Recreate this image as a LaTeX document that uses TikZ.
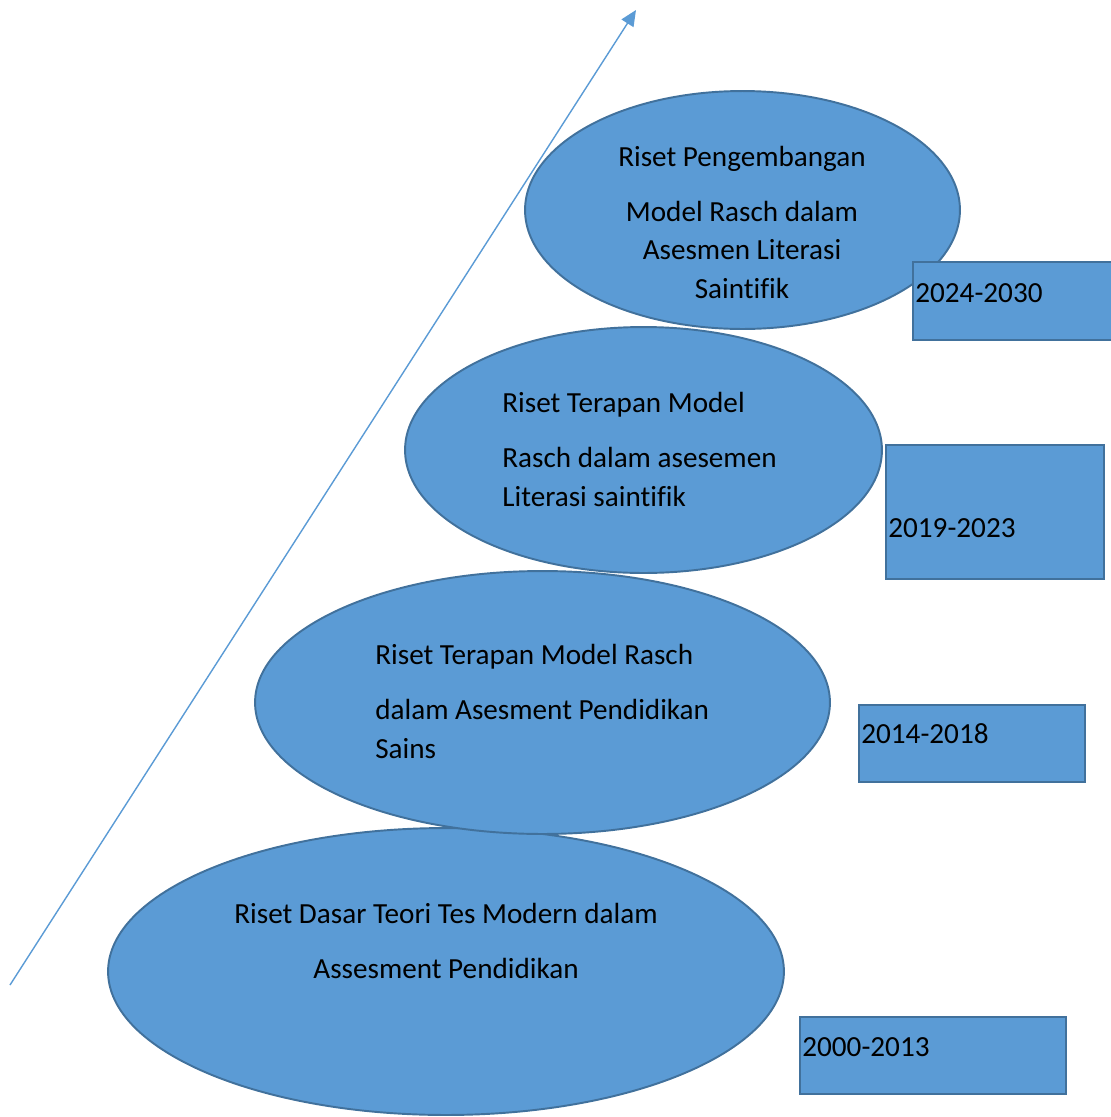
\documentclass[tikz,border=0pt]{standalone}
\usepackage{fontspec}
\setmainfont{Carlito}[Ligatures=NoCommon]
\usepackage{xcolor}
\usepackage{tikz}
\usetikzlibrary{shapes.geometric,arrows.meta}
\definecolor{stagefill}{HTML}{5B9BD5}
\definecolor{stageline}{HTML}{41719C}

\begin{document}
\begin{tikzpicture}[x=0.02cm,y=-0.02cm,
    stage/.style={ellipse,draw=stageline,fill=stagefill,line width=1.1pt,inner sep=0pt},
    period/.style={rectangle,draw=stageline,fill=stagefill,line width=1.1pt,inner sep=0pt},
    txt/.style={font=\fontsize{16.6}{21.8}\selectfont,inner sep=0pt}]
        \useasboundingbox (0,0) rectangle (1111,1117);

        % growth arrow
        \coordinate (start) at (10,985);
        \coordinate (goal) at (636,10);
        \draw[stagefill,line width=0.8pt,-{Triangle[length=9pt,width=8pt]}] (start) -- (goal);

        % stages, bottom to top
        \node[stage,minimum width=13.52cm,minimum height=5.74cm] (dasar) at (446,971.5) {};
        \node[stage,minimum width=11.5cm,minimum height=5.26cm] (sains) at (542.5,702.5) {};
        \node[stage,minimum width=9.54cm,minimum height=4.92cm] (terapan) at (643.5,450) {};
        \node[stage,minimum width=8.7cm,minimum height=4.76cm] (kembang) at (742.5,210) {};

        % period boxes
        \node[period,minimum width=5.32cm,minimum height=1.54cm] (p1) at (933,1055.5) {};
        \node[period,minimum width=4.52cm,minimum height=1.54cm] (p2) at (972,743.5) {};
        \node[period,minimum width=4.36cm,minimum height=2.68cm] (p3) at (995,512) {};
        \node[period,minimum width=4cm,minimum height=1.56cm] (p4) at (1013,301) {};

        % stage texts (anchored at the baseline of the last line)
        \node[txt,align=center,anchor=base] (tkembang) at (742,298)
            {Riset Pengembangan\\[9.4pt] Model Rasch dalam\\ Asesmen Literasi\\ Saintifik};
        \node[txt,align=left,anchor=base west] (tterapan) at (502,506)
            {Riset Terapan Model\\[9.4pt] Rasch dalam asesemen\\ Literasi saintifik};
        \node[txt,align=left,anchor=base west] (tsains) at (375,758)
            {Riset Terapan Model Rasch\\[9.4pt] dalam Asesment Pendidikan\\ Sains};
        \node[txt,align=center,anchor=base] (tdasar) at (446,978)
            {Riset Dasar Teori Tes Modern dalam\\[9.4pt] Assesment Pendidikan};

        % period texts
        \node[txt,anchor=base west] (t1) at (802,1056) {2000-2013};
        \node[txt,anchor=base west] (t2) at (861,743) {2014-2018};
        \node[txt,anchor=base west] (t3) at (888,537) {2019-2023};
        \node[txt,anchor=base west] (t4) at (915,302) {2024-2030};
    \end{tikzpicture}
\end{document}
